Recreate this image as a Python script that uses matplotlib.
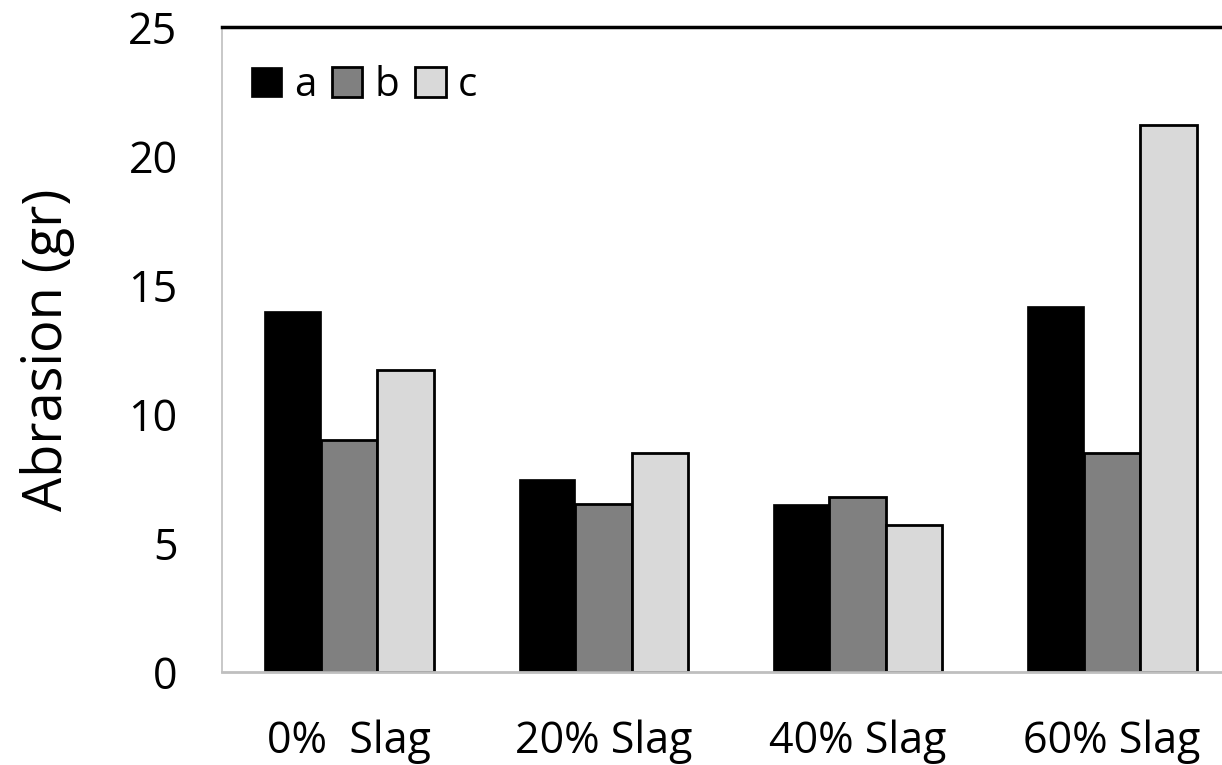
import matplotlib
matplotlib.use("Agg")
import matplotlib.pyplot as plt
import numpy as np

categories = ["0%  Slag", "20% Slag", "40% Slag", "60% Slag"]
series_names = ["a", "b", "c"]
a_vals = [14.0, 7.5, 6.5, 14.2]
b_vals = [9.0, 6.5, 6.8, 8.5]
c_vals = [11.7, 8.5, 5.7, 21.2]
y_ticks = [0, 5, 10, 15, 20, 25]

plt.rcParams['font.family'] = ['Open Sans', 'DejaVu Sans']

fig = plt.figure(figsize=(12.22, 7.65), dpi=100)
ax = fig.add_axes([222/1222, 93/765, 1017/1222, 645/765])

x = np.arange(len(categories))
w = 0.222
colors = ["#000000", "#808080", "#d9d9d9"]
for i, (vals, name, col) in enumerate(zip([a_vals, b_vals, c_vals], series_names, colors)):
    ax.bar(x + (i - 1) * w, vals, width=w, color=col, edgecolor="black",
           linewidth=2 if i > 0 else 0.5, label=name)

ax.set_xlim(-0.5, 3.5)
ax.set_ylim(0, 25)
ax.set_yticks(y_ticks)
ax.set_xticks(x)
ax.set_xticklabels(categories, fontsize=31)
ax.tick_params(axis='y', labelsize=31, length=0, pad=32)
ax.tick_params(axis='x', length=0, pad=34)
ax.set_ylabel("Abrasion (gr)", fontsize=39)
ax.yaxis.label.set_verticalalignment('center')
ax.yaxis.set_label_coords(-0.172, 0.5)

ax.spines["right"].set_visible(False)
ax.spines["top"].set_color("black")
ax.spines["top"].set_linewidth(2.5)
ax.spines["left"].set_color("#bfbfbf")
ax.spines["left"].set_linewidth(1.2)
ax.spines["bottom"].set_color("#bfbfbf")
ax.spines["bottom"].set_linewidth(2)

leg = ax.legend(loc="upper left", ncol=3, frameon=False, fontsize=29,
                handlelength=0.75, handleheight=0.75, handletextpad=0.3,
                columnspacing=0.4, borderpad=0, borderaxespad=0,
                bbox_to_anchor=(0.029, 0.94))

fig.savefig("out.png", dpi=100)
